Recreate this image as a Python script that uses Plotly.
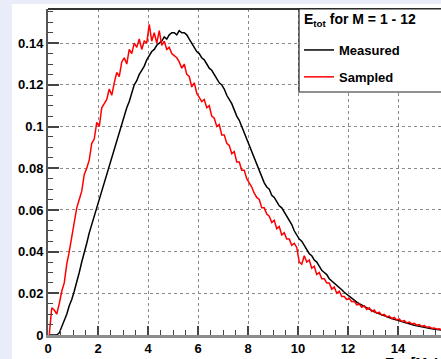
import numpy as np
import plotly.graph_objects as go

# ---------------- data ----------------
bin_width = 0.1  # MeV, bins start at 0
measured = [
    0, 0, 0, 0, 0.001, 0.004, 0.007, 0.010, 0.014, 0.017,
    0.021, 0.025, 0.030, 0.035, 0.039, 0.044, 0.049, 0.053, 0.058, 0.062,
    0.066, 0.070, 0.074, 0.078, 0.082, 0.086, 0.090, 0.094, 0.098, 0.101,
    0.105, 0.109, 0.112, 0.116, 0.120, 0.122, 0.125, 0.127, 0.129, 0.132,
    0.134, 0.136, 0.137, 0.139, 0.140, 0.141, 0.143, 0.142, 0.144, 0.145,
    0.145, 0.144, 0.146, 0.145, 0.145, 0.144, 0.142, 0.140, 0.138, 0.136,
    0.135, 0.133, 0.132, 0.130, 0.128, 0.127, 0.125, 0.123, 0.121, 0.120,
    0.118, 0.115, 0.113, 0.111, 0.108, 0.105, 0.103, 0.100, 0.097, 0.094,
    0.091, 0.088, 0.085, 0.082, 0.079, 0.076, 0.073, 0.071, 0.070, 0.067,
    0.066, 0.064, 0.062, 0.061, 0.059, 0.057, 0.055, 0.053, 0.050, 0.048,
    0.046, 0.045, 0.043, 0.041, 0.039, 0.038, 0.036, 0.035, 0.033, 0.031,
    0.030, 0.029, 0.027, 0.026, 0.025, 0.024, 0.0228, 0.0217, 0.0205, 0.0195,
    0.0185, 0.0176, 0.0167, 0.0158, 0.0150, 0.0143, 0.0136, 0.0130, 0.0123, 0.0117,
    0.0111, 0.0106, 0.0101, 0.0096, 0.0091, 0.0087, 0.0083, 0.0079, 0.0075, 0.0071,
    0.0067, 0.0063, 0.0060, 0.0056, 0.0053, 0.0050, 0.0047, 0.0044, 0.0042, 0.0039,
    0.0037, 0.0034, 0.0032, 0.0030, 0.0028, 0.0026, 0.0025, 0.0023, 0.0021, 0.0020,
]
sampled = [
    0, 0.013, 0.012, 0.010, 0.015, 0.021, 0.025, 0.034, 0.040, 0.047,
    0.052, 0.061, 0.065, 0.069, 0.077, 0.080, 0.084, 0.092, 0.094, 0.102,
    0.100, 0.109, 0.111, 0.113, 0.118, 0.115, 0.121, 0.126, 0.124, 0.131,
    0.133, 0.130, 0.137, 0.135, 0.140, 0.138, 0.142, 0.137, 0.141, 0.140,
    0.149, 0.141, 0.145, 0.140, 0.146, 0.139, 0.141, 0.137, 0.138, 0.135,
    0.134, 0.133, 0.131, 0.128, 0.130, 0.125, 0.124, 0.119, 0.121, 0.116,
    0.114, 0.112, 0.113, 0.109, 0.110, 0.105, 0.104, 0.100, 0.101, 0.096,
    0.096, 0.092, 0.091, 0.087, 0.088, 0.083, 0.083, 0.079, 0.079, 0.075,
    0.073, 0.071, 0.068, 0.066, 0.065, 0.061, 0.061, 0.058, 0.057, 0.054,
    0.055, 0.051, 0.052, 0.048, 0.049, 0.046, 0.046, 0.043, 0.044, 0.042,
    0.035, 0.034, 0.038, 0.035, 0.036, 0.032, 0.033, 0.029, 0.030, 0.027,
    0.027, 0.025, 0.025, 0.022, 0.023, 0.020, 0.021, 0.0185, 0.0185, 0.0170,
    0.0175, 0.0160, 0.0162, 0.0145, 0.0148, 0.0133, 0.0140, 0.0122, 0.0130, 0.0113,
    0.0120, 0.0104, 0.0110, 0.0095, 0.0099, 0.0087, 0.0091, 0.0079, 0.0084, 0.0072,
    0.0077, 0.0065, 0.0069, 0.0058, 0.0062, 0.0053, 0.0056, 0.0047, 0.0050, 0.0042,
    0.0045, 0.0037, 0.0039, 0.0032, 0.0034, 0.0028, 0.0030, 0.0024, 0.0026, 0.0021,
]
x_tick_vals = [0, 2, 4, 6, 8, 10, 12, 14]
x_tick_text = ["0", "2", "4", "6", "8", "10", "12", "14"]
y_tick_vals = [0, 0.02, 0.04, 0.06, 0.08, 0.1, 0.12, 0.14]
y_tick_text = ["0", "0.02", "0.04", "0.06", "0.08", "0.1", "0.12", "0.14"]
series_names = ["Measured", "Sampled"]
legend_title = "E<sub>tot</sub> for M = 1 - 12"
x_title = "E<sub>tot</sub> [MeV]"

# ---------------- figure ----------------
W, H = 441, 359
ML, MR, MT, MB = 48, 0, 9, 24
PW, PH = W - ML - MR, H - MT - MB
FONT = "Liberation Sans, Arial, Helvetica, sans-serif"


def px2x(p):
    return (p - ML) / PW


def px2y(p):
    return (H - MB - p) / PH


def centers(vals):
    return np.round((np.arange(len(vals)) + 0.5) * bin_width, 3)


fig = go.Figure()
for vals, name, col in [(measured, series_names[0], "black"), (sampled, series_names[1], "#ff0000")]:
    fig.add_trace(go.Scatter(x=centers(vals), y=vals, mode="lines", name=name,
                             line=dict(color=col, width=1.5),
                             legendgroup=name))

axis_common = dict(
    showgrid=True, gridcolor="#8a8a8a", griddash="dot", gridwidth=1,
    ticks="inside", tickcolor="#444", zeroline=False,
    tickfont=dict(family=FONT, size=13, color="black", weight="bold"),
)

fig.update_xaxes(
    range=[0, 15.72], tickvals=x_tick_vals, ticktext=x_tick_text,
    ticklen=9, tickwidth=1.5, showline=True, linecolor="#8c8c8c", linewidth=2.5,
    mirror=False,
    minor=dict(dtick=0.5, tick0=0, ticks="inside", ticklen=5, tickcolor="#444", tickwidth=1.2, showgrid=False),
    **axis_common,
)
fig.update_yaxes(
    range=[0, 0.1564], tickvals=y_tick_vals, ticktext=y_tick_text,
    ticklen=11, tickwidth=1.5, showline=True, linecolor="#555", linewidth=2,
    minor=dict(dtick=0.005, tick0=0, ticks="inside", ticklen=5, tickcolor="#444", tickwidth=1.2, showgrid=False),
    **axis_common,
)

shapes = [
    # white canvas over lavender page background
    dict(type="rect", xref="paper", yref="paper", layer="below",
         x0=px2x(12), x1=px2x(W + 30), y0=px2y(H + 30), y1=px2y(4),
         fillcolor="white", line=dict(width=0)),
    # top frame line
    dict(type="line", xref="paper", yref="paper", layer="above",
         x0=0, x1=px2x(W + 30), y0=1, y1=1, line=dict(color="#333", width=2)),
    # legend box
    dict(type="rect", xref="paper", yref="paper", layer="above",
         x0=px2x(299), x1=px2x(W + 40), y0=px2y(92), y1=1,
         fillcolor="white", line=dict(color="#222", width=1.2)),
]

fig.update_layout(
    width=W, height=H,
    margin=dict(l=ML, r=MR, t=MT, b=MB, pad=0),
    paper_bgcolor="#E9EDF9", plot_bgcolor="white",
    font=dict(family=FONT, size=13, color="black"),
    shapes=shapes,
    showlegend=True,
    legend=dict(
        x=px2x(299), xanchor="left", y=px2y(35), yanchor="top",
        bgcolor="rgba(0,0,0,0)", borderwidth=0,
        font=dict(family=FONT, size=13, weight="bold"),
        tracegroupgap=7,
    ),
    annotations=[
        dict(text=legend_title, xref="paper", yref="paper", x=px2x(302), y=px2y(20),
             xanchor="left", yanchor="middle", showarrow=False,
             font=dict(family=FONT, size=14, weight="bold")),
        dict(text=x_title, xref="paper", yref="paper", x=px2x(383), y=px2y(353),
             xanchor="left", yanchor="top", showarrow=False,
             font=dict(family=FONT, size=14, weight="bold")),
    ],
)

fig.write_html("out.html")
